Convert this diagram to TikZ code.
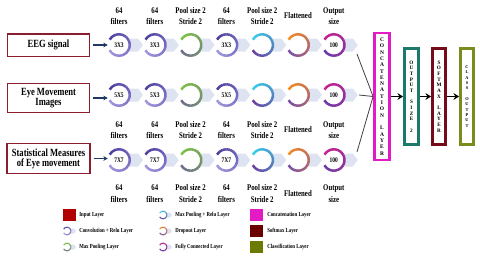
\documentclass[tikz,border=0pt]{standalone}
\usepackage{fontspec}
\setmainfont{Liberation Serif}
\newfontfamily\narrowfont[FakeStretch=0.78]{Liberation Serif}
\usetikzlibrary{positioning,arrows.meta}
\definecolor{boxred}{HTML}{8B1E2E}
\definecolor{navy}{HTML}{1F3864}
\definecolor{chev}{HTML}{DDE3F1}
\definecolor{convA}{HTML}{4B3FA0}
\definecolor{convB}{HTML}{A096DC}
\definecolor{poolA}{HTML}{7DC443}
\definecolor{poolB}{HTML}{6E6E8C}
\definecolor{reluA}{HTML}{35D0E8}
\definecolor{reluB}{HTML}{6A3FA0}
\definecolor{dropA}{HTML}{F58A1F}
\definecolor{dropB}{HTML}{7A4FA8}
\definecolor{fullA}{HTML}{C8208F}
\definecolor{fullB}{HTML}{6A3AA8}
\definecolor{catpink}{HTML}{E21BC4}
\definecolor{outteal}{HTML}{1C7A6C}
\definecolor{softred}{HTML}{750A18}
\definecolor{clsolive}{HTML}{7C8C1C}
\definecolor{inred}{HTML}{B00000}
\definecolor{legsoft}{HTML}{6A0000}
\definecolor{legolive}{HTML}{6B7A00}

% open ring with a colour run from top to bottom
\newcommand{\ringarc}[4]{%
  \foreach \k in {0,...,14}{%
    \pgfmathtruncatemacro\pc{100-100*\k/14}
    \draw[line width=#2*0.05mm+0.08mm, draw=#3!\pc!#4] (#1.center) ++({-150+20*\k}:#2)
      arc[start angle={-150+20*\k}, delta angle=21, radius=#2];
  }}

\begin{document}
\begin{tikzpicture}[x=0.25mm, y=-0.25mm,
  inbox/.style={draw=boxred, line width=0.35mm, minimum width=20.4mm, minimum height=5.6mm, align=center, font=\narrowfont\bfseries\fontsize{7.8}{7.2}\selectfont},
  cnode/.style={circle, minimum size=5.5mm, inner sep=0pt, font=\narrowfont\bfseries\fontsize{5}{6}\selectfont},
  lbl/.style={align=center, inner sep=0pt, font=\narrowfont\bfseries\fontsize{6.2}{8.2}\selectfont},
  vbox/.style={draw, line width=0.7mm, inner sep=0pt, align=center, minimum width=3.4mm, minimum height=24mm},
  inarr/.style={-{Stealth[length=1.1mm, width=1.2mm]}, navy, line width=0.3mm},
  barr/.style={-{Stealth[length=1.4mm, width=1.7mm]}, line width=0.35mm},
  sq/.style={minimum width=3.25mm, minimum height=3mm, inner sep=0pt},
  leg/.style={anchor=west, inner sep=0pt, font=\narrowfont\bfseries\fontsize{4.4}{5}\selectfont},
  icon/.style={circle, minimum size=2mm, inner sep=0pt}]
\useasboundingbox (0,0) rectangle (480,266);

% inputs
\node[inbox] (eeg) at (48.5,45) {EEG signal};
\node[inbox, minimum height=6mm] (eye) at (48.5,98) {Eye Movement\\Images};
\node[inbox] (stat) at (48.5,158.5) {Statistical Measures\\of Eye movement};

% layer circles
\foreach \i/\a/\b/\c in {1/3X3/5X5/7X7, 2/3X3/5X3/7X7, 3/{}/{}/{}, 4/3X3/5X5/7X7, 5/{}/{}/{}, 6/{}/{}/{}, 7/100/100/100}{
  \node[cnode] (c1\i) at ({119+35.8*(\i-1)},45) {\a};
  \node[cnode] (c2\i) at ({119+35.8*(\i-1)},95) {\b};
  \node[cnode] (c3\i) at ({119+35.8*(\i-1)},160) {\c};
}
\foreach \r in {1,2,3}{\foreach \i in {1,...,7}{
  \fill[chev] (c\r\i.center) ++(11,-6.5) -- ++(8,0) -- ++(5,6.5) -- ++(-5,6.5) -- ++(-8,0) -- cycle;
}}
\foreach \r in {1,2,3}{\foreach \i/\ca/\cb in {1/convA/convB, 2/convA/convB, 3/poolA/poolB, 4/convA/convB, 5/reluA/reluB, 6/dropA/dropB, 7/fullA/fullB}{
  \ringarc{c\r\i}{10.8}{\ca}{\cb}
}}

% layer captions
\foreach \i/\t in {1/64\\filters, 2/64\\filters, 3/Pool size 2\\Stride 2, 4/64\\filters, 5/Pool size 2\\Stride 2, 6/Flattened, 7/Output\\size}{
  \node[lbl] (ta\i) at ({119+35.8*(\i-1)},16) {\t};
  \node[lbl] (tb\i) at ({119+35.8*(\i-1)},130) {\t};
  \node[lbl] (tc\i) at ({119+35.8*(\i-1)},193.5) {\t};
}

\draw[inarr, shorten <=0.75mm] (eeg) -- (eeg -| c11.west);
\draw[inarr, shorten <=0.75mm] (eye) -- (eye -| c21.west);
\draw[inarr, shorten <=0.75mm] (stat) -- (stat -| c31.west);

% head of the network
\node[vbox, draw=catpink, minimum width=3.75mm, minimum height=31.75mm, font=\bfseries\fontsize{3.9}{4.5}\selectfont] (cat) at (382,96.5)
  {C\\O\\N\\C\\A\\T\\E\\N\\A\\T\\I\\O\\N\\[4.5pt]L\\A\\Y\\E\\R};
\node[vbox, draw=outteal, minimum width=3.5mm, font=\bfseries\fontsize{3.7}{4.05}\selectfont] (osz) at (411.5,96.5)
  {O\\U\\T\\P\\U\\T\\[4.05pt]S\\I\\Z\\E\\[4.05pt]2};
\node[vbox, draw=softred, minimum width=3.25mm, font=\bfseries\fontsize{3.7}{4.05}\selectfont] (smx) at (439,96.5)
  {S\\O\\F\\T\\M\\A\\X\\[4.05pt]L\\A\\Y\\E\\R};
\node[vbox, draw=clsolive, minimum width=3.25mm, font=\bfseries\fontsize{3.1}{3.8}\selectfont] (cls) at (467,96.5)
  {C\\L\\A\\S\\S\\[3.8pt]O\\U\\T\\P\\U\\T};

\coordinate (e1) at (357,54);
\coordinate (e2) at (359,95);
\coordinate (e3) at (357,152);
\draw[line width=0.2mm, black!75] (e1) -- (cat.west);
\draw[line width=0.2mm, black!75] (e2) -- (cat.west);
\draw[line width=0.2mm, black!75] (e3) -- (cat.west);
\draw[barr] (cat) -- (osz);
\draw[barr] (osz) -- (smx);
\draw[barr] (smx) -- (cls);

% legend
\node[sq, fill=inred] (sq1) at (69.5,215) {};
\node[leg] (lt1) at (79,215) {Input Layer};
\foreach \n/\y/\ca/\cb/\t in {2/231/convA/convB/Convolution + Relu Layer, 3/247/poolA/poolB/Max Pooling Layer}{
  \node[icon] (ia\n) at (67,\y) {};
  \fill[chev] (ia\n.center) ++(4,-2.5) -- ++(3,0) -- ++(2,2.5) -- ++(-2,2.5) -- ++(-3,0) -- cycle;
  \ringarc{ia\n}{3.8}{\ca}{\cb}
  \node[leg] (lt\n) at (79,\y) {\t};
}
\foreach \n/\y/\ca/\cb/\t in {1/215/reluA/reluB/Max Pooling + Relu Layer, 2/231/dropA/dropB/Dropout Layer, 3/247/fullA/fullB/Fully Connected Layer}{
  \node[icon] (ib\n) at (163,\y) {};
  \fill[chev] (ib\n.center) ++(4,-2.5) -- ++(3,0) -- ++(2,2.5) -- ++(-2,2.5) -- ++(-3,0) -- cycle;
  \ringarc{ib\n}{3.8}{\ca}{\cb}
  \node[leg] (lu\n) at (175,\y) {\t};
}
\foreach \n/\y/\cc/\t in {1/215/catpink/Concatenation Layer, 2/231/legsoft/Softmax Layer, 3/246.5/legolive/Classification Layer}{
  \node[sq, fill=\cc] (sr\n) at (256,\y) {};
  \node[leg] (lv\n) at (267,\y) {\t};
}
\end{tikzpicture}
\end{document}
